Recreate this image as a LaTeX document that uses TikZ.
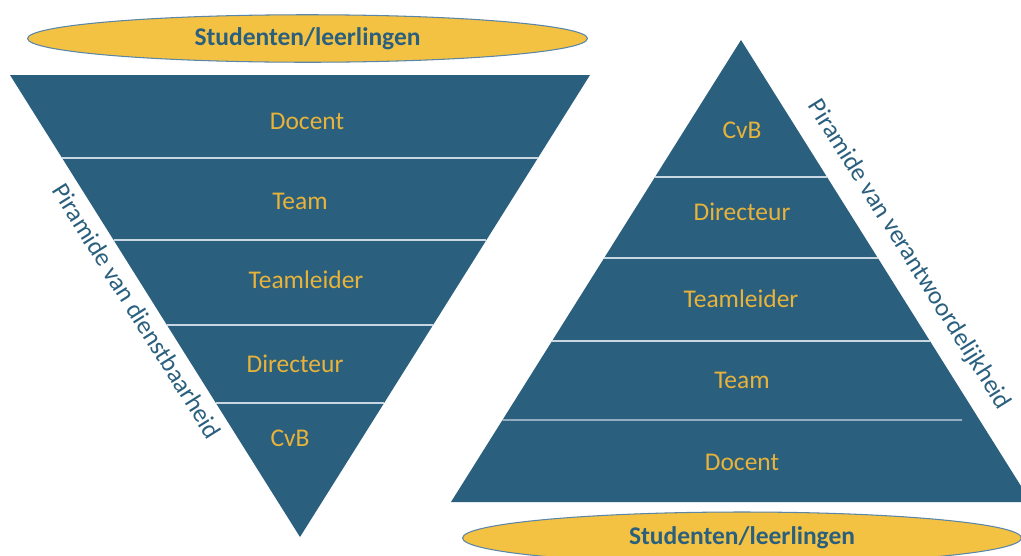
\documentclass[tikz,border=0pt]{standalone}
\usepackage{fontspec}
\setmainfont{Carlito}
\usetikzlibrary{shapes.geometric, calc}

\definecolor{pyrblue}{HTML}{2A5F7E}
\definecolor{pyrgold}{HTML}{E8B33A}
\definecolor{ovalfill}{HTML}{F4C242}
\definecolor{ovalline}{HTML}{5A86A8}
\definecolor{sepline}{HTML}{C9D7E2}

\tikzset{
  layer/.style = {text=pyrgold, font=\fontsize{14.5}{17}\selectfont},
  oval/.style = {ellipse, draw=ovalline, line width=0.6pt, fill=ovalfill, inner sep=0pt,
                 minimum width=11.2cm, minimum height=0.95cm, text=pyrblue,
                 font=\fontsize{14.5}{17}\selectfont\bfseries},
  sidetext/.style = {text=pyrblue, rotate=-57.9, font=\fontsize{14.5}{17}\selectfont},
  sep/.style = {draw=sepline, line width=0.6pt}
}

\begin{document}
\begin{tikzpicture}[x=0.02cm, y=-0.02cm]
\useasboundingbox (0,0) rectangle (1021,555);

% inverted pyramid
\coordinate (dl) at (10,75);
\coordinate (dr) at (590,75);
\coordinate (dtip) at (300,537);
\fill[pyrblue] (dl) -- (dr) -- (dtip) -- cycle;
\foreach \y in {158, 240, 325, 403}
  \draw[sep] ($(dl)!{(\y-75)/462}!(dtip)$) -- ($(dr)!{(\y-75)/462}!(dtip)$);

% upright pyramid
\coordinate (utip) at (741,40);
\coordinate (ul) at (451,502);
\coordinate (ur) at (1031,502);
\fill[pyrblue] (utip) -- (ur) -- (ul) -- cycle;
\foreach \y in {177, 258, 341}
  \draw[sep] ($(utip)!{(\y-40)/462}!(ul)$) -- ($(utip)!{(\y-40)/462}!(ur)$);
\draw[sep] ($(utip)!{380/462}!(ul)$) -- (962,420);

\node[oval] (stud1) at (307.5,38.5) {Studenten/leerlingen};
\node[oval, minimum width=11.18cm, minimum height=1.04cm] (stud2) at (742,538) {Studenten/leerlingen};

\node[layer] (d1) at (307,121) {Docent};
\node[layer] (d2) at (300,201) {Team};
\node[layer] (d3) at (306,280) {Teamleider};
\node[layer] (d4) at (295,364) {Directeur};
\node[layer] (d5) at (290,438) {CvB};

\node[layer] (u1) at (742,130) {CvB};
\node[layer] (u2) at (742,212) {Directeur};
\node[layer] (u3) at (741,299) {Teamleider};
\node[layer] (u4) at (742,380) {Team};
\node[layer] (u5) at (742,462) {Docent};

\node[sidetext] (dienst) at (137,311) {Piramide van dienstbaarheid};
\node[sidetext] (verant) at (909,255) {Piramide van verantwoordelijkheid};
\end{tikzpicture}
\end{document}
